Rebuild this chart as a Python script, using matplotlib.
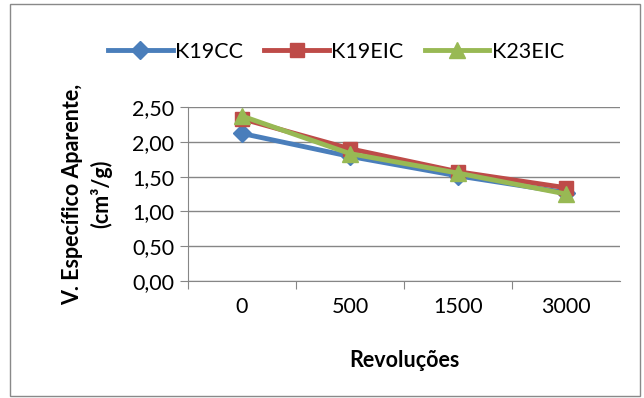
import matplotlib
matplotlib.use("Agg")
import matplotlib.pyplot as plt
from matplotlib.patches import Rectangle

plt.rcParams['font.family'] = ['Lato', 'DejaVu Sans']

# dados
categorias = ["0", "500", "1500", "3000"]
k19cc = [2.12, 1.79, 1.51, 1.27]
k19eic = [2.33, 1.90, 1.57, 1.34]
k23eic = [2.37, 1.83, 1.55, 1.25]
yticks = [0.0, 0.5, 1.0, 1.5, 2.0, 2.5]

fs = 15.5

fig = plt.figure(figsize=(6.44, 3.98), dpi=100)
# borda do gráfico
fig.patches.append(Rectangle((10/644, 2/398), 630/644, 392/398, transform=fig.transFigure,
                             fill=False, edgecolor="#898989", linewidth=1))

ax = fig.add_axes([188/644, 1-281/398, (620-188)/644, (281-107)/398])
x = range(len(categorias))
ax.plot(x, k19cc, color="#4a7ebb", lw=3.5, marker="D", ms=9, label="K19CC")
ax.plot(x, k19eic, color="#be4b48", lw=3.5, marker="s", ms=10, label="K19EIC")
ax.plot(x, k23eic, color="#98b954", lw=3.5, marker="^", ms=11, label="K23EIC")

ax.set_xlim(-0.5, 3.5)
ax.set_ylim(0, 2.5)
ax.set_yticks(yticks)
ax.set_yticklabels([("%.2f" % v).replace(".", ",") for v in yticks], fontsize=fs)
ax.yaxis.grid(True, color="#868686", lw=1)
ax.set_axisbelow(True)
ax.set_xticks([-0.5, 0.5, 1.5, 2.5])
ax.set_xticklabels([])
ax.tick_params(axis="x", length=6, color="#868686", direction="out")
ax.tick_params(axis="y", length=6, color="#868686", direction="out", pad=4)
for i, c in enumerate(categorias):
    ax.text(i, -0.37, c, ha="center", va="center", fontsize=fs)
for s in ["top", "right"]:
    ax.spines[s].set_visible(False)
ax.spines["left"].set_color("#868686")
ax.spines["bottom"].set_color("#868686")

ax.set_xlabel("Revoluções", fontsize=fs, fontweight="bold", labelpad=40)
ax.set_ylabel("V. Específico Aparente,\n(cm³/g)", fontsize=fs, fontweight="bold",
              labelpad=14, linespacing=1.4)

fig.legend(loc="center", bbox_to_anchor=(336/644, 1-52/398), ncol=3, frameon=False,
           fontsize=fs, handlelength=3.0, columnspacing=1.0, handletextpad=0.1)

fig.savefig("out.png", dpi=100)
